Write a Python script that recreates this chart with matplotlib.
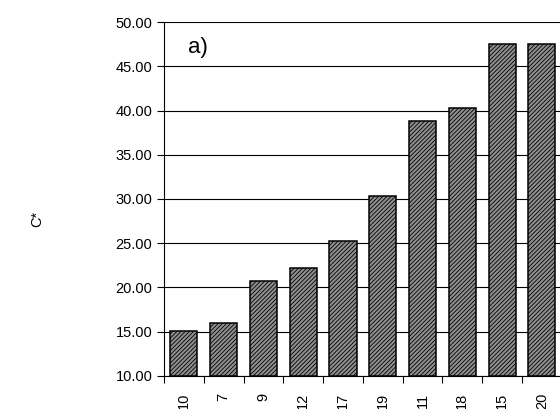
#!/usr/bin/env python3
"""Bar chart of C* per sample, panel a)."""

import numpy as np
import matplotlib
matplotlib.use('Agg')
import matplotlib.pyplot as plt

plt.rcParams['font.family'] = ['Liberation Sans', 'DejaVu Sans']
plt.rcParams['hatch.linewidth'] = 0.6
plt.rcParams['hatch.color'] = '#505050'

# sample ids (x categories) and C* values
samples = ['10', '7', '9', '12', '17', '19', '11', '18', '15', '20']
c_star = [15.05, 15.95, 20.75, 22.15, 25.2, 30.3, 38.8, 40.3, 47.55, 47.55]
y_ticks = [10, 15, 20, 25, 30, 35, 40, 45, 50]

fig = plt.figure(figsize=(5.6, 4.09), dpi=100)
ax = fig.add_axes([0.293, 0.081, 0.71, 0.865])

x = np.arange(len(samples))
ax.bar(x, [v - 10 for v in c_star], bottom=10, width=0.68,
       facecolor='#909090', edgecolor='black', linewidth=1.1,
       hatch='////////', zorder=3)

ax.set_xlim(-0.5, len(samples) - 0.5)
ax.set_ylim(10, 50)
ax.set_yticks(y_ticks)
ax.set_yticklabels([f'{v:.2f}' for v in y_ticks], fontsize=10.5)
ax.yaxis.grid(True, color='black', linewidth=0.8, zorder=0)

# ticks at category boundaries, labels at centres
ax.set_xticks(np.arange(len(samples) + 1) - 0.5)
ax.set_xticklabels([])
ax.set_xticks(x, minor=True)
ax.set_xticklabels(samples, minor=True, rotation=90, fontsize=10.5)
ax.tick_params(axis='x', which='major', direction='out', length=5, width=0.8)
ax.tick_params(axis='x', which='minor', length=0, pad=12)
ax.tick_params(axis='y', direction='out', length=5, width=0.8)

for side in ['top', 'right']:
    ax.spines[side].set_visible(False)
ax.spines['left'].set_linewidth(0.8)
ax.spines['bottom'].set_linewidth(0.8)

ax.text(0.06, 0.913, 'a)', transform=ax.transAxes, fontsize=16, va='baseline')
fig.text(0.066, 0.465, 'C*', rotation=90, fontsize=10.5, va='center', ha='center')

fig.savefig('out.png', dpi=100)
